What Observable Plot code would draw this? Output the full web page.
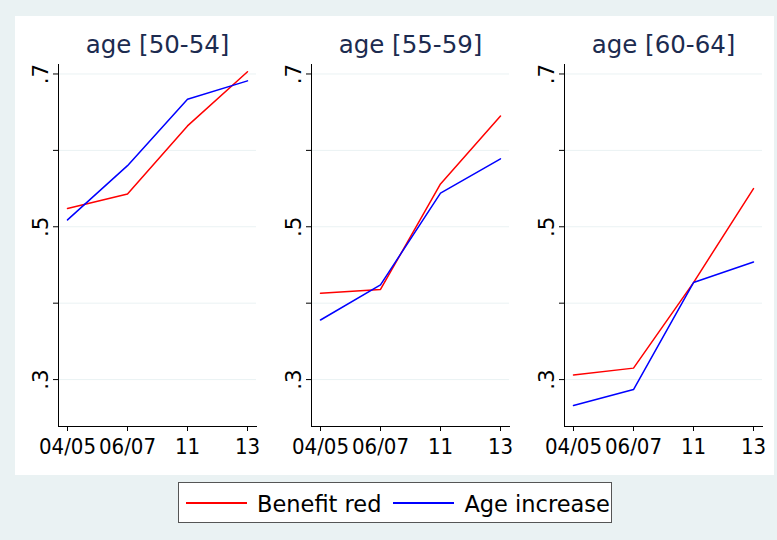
<!DOCTYPE html>
<html><head><meta charset="utf-8">
<script src="https://cdn.jsdelivr.net/npm/d3@7"></script>
<script src="https://cdn.jsdelivr.net/npm/@observablehq/plot@0.6"></script>
<style>
html,body{margin:0;padding:0;background:#eaf2f3;}
body{width:777px;height:540px;position:relative;overflow:hidden;font-family:"DejaVu Sans",sans-serif;}
#white{position:absolute;left:15px;top:16px;width:759px;height:459px;background:#fff;}
.panel{position:absolute;top:16px;}
.panel g[aria-label="x-axis tick label"] text{font-family:"DejaVu Sans Condensed","DejaVu Sans",sans-serif;}
#legend{position:absolute;left:178px;top:482px;width:432px;height:39px;border:1px solid #555;background:#fff;display:flex;align-items:center;font-size:22.5px;color:#000;white-space:nowrap;}
#legend .sw{display:inline-block;width:61px;height:0;border-top:2px solid;}
#legend .lab{position:relative;top:1px;}
</style>
</head><body>
<div id="white"></div>
<div id="panels"></div>
<div id="legend"></div>
<script>
const categories = ["04/05", "06/07", "11", "13"];
const panelTitles = ["age [50-54]", "age [55-59]", "age [60-64]"];
const seriesNames = ["Benefit red", "Age increase"];
const seriesColors = ["#ff0000", "#0000ff"];
// values per panel, per category
const benefitRed = [
  [0.524, 0.543, 0.632, 0.703],
  [0.413, 0.418, 0.556, 0.645],
  [0.306, 0.315, 0.427, 0.550]
];
const ageIncrease = [
  [0.509, 0.580, 0.667, 0.691],
  [0.378, 0.424, 0.544, 0.589],
  [0.266, 0.287, 0.427, 0.454]
];
const yTicks = [0.3, 0.4, 0.5, 0.6, 0.7];
const yTickLabels = [".3", "", ".5", "", ".7"];

const panelLefts = [15, 268, 521];
const container = document.getElementById("panels");

panelTitles.forEach((title, i) => {
  const rows = [];
  [benefitRed, ageIncrease].forEach((s, k) =>
    categories.forEach((c, j) => rows.push({series: seriesNames[k], cat: c, value: s[i][j]})));
  const chart = Plot.plot({
    width: 249, height: 450,
    marginLeft: 43, marginRight: 8, marginTop: 48, marginBottom: 40,
    style: {background: "transparent", fontFamily: "DejaVu Sans", color: "#000", overflow: "visible"},
    x: {type: "point", domain: categories, padding: 0.123},
    y: {domain: [0.2386, 0.7124]},
    color: {domain: seriesNames, range: seriesColors},
    marks: [
      Plot.gridY(yTicks, {stroke: "#eaf2f3", strokeOpacity: 1, strokeWidth: 1}),
      Plot.frame({anchor: "left", stroke: "#000"}),
      Plot.frame({anchor: "bottom", stroke: "#000"}),
      Plot.axisY({ticks: yTicks, tickSize: 5, tickPadding: 6, tickRotate: -90,
        tickFormat: d => yTickLabels[yTicks.indexOf(d)], fontSize: 21.5, label: null}),
      Plot.axisX({tickSize: 5, tickPadding: 7, fontSize: 22, label: null}),
      Plot.line(rows, {x: "cat", y: "value", z: "series", stroke: "series", strokeWidth: 1.5}),
      Plot.text([title], {frameAnchor: "top", lineAnchor: "bottom", dy: -12, fontSize: 24.5, fill: "#1c2b4f"})
    ]
  });
  chart.classList.add("panel");
  chart.style.left = panelLefts[i] + "px";
  container.appendChild(chart);
});

const legend = document.getElementById("legend");
legend.innerHTML =
  `<span class="sw" style="border-color:${seriesColors[0]};margin-left:7px"></span>` +
  `<span class="lab" style="margin-left:10px">${seriesNames[0]}</span>` +
  `<span class="sw" style="border-color:${seriesColors[1]};margin-left:12px"></span>` +
  `<span class="lab" style="margin-left:10px">${seriesNames[1]}</span>`;
</script>
</body></html>
